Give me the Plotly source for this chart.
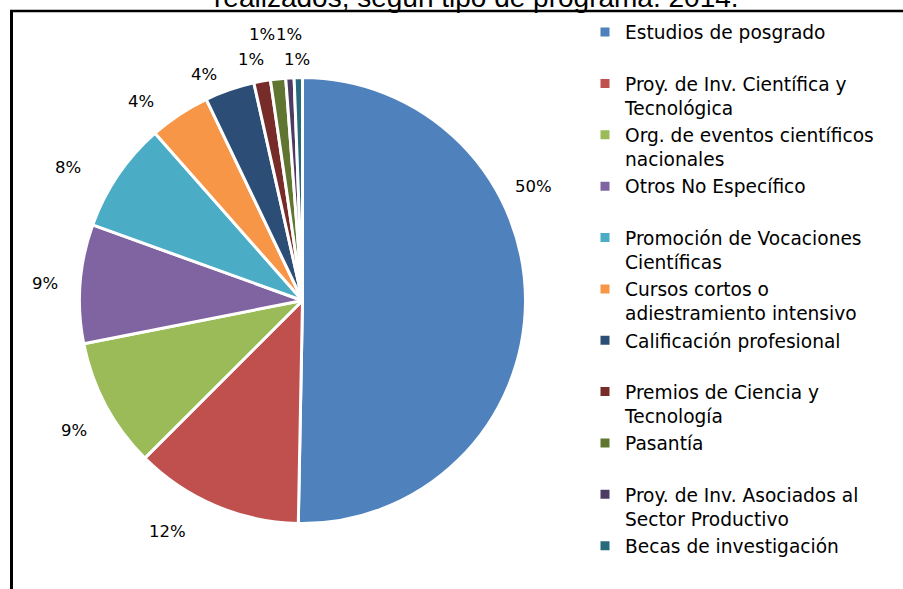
import math
import plotly.graph_objects as go

# ---- data ----
categories = [
    "Estudios de posgrado",
    "Proy. de Inv. Científica y<br>Tecnológica",
    "Org. de eventos científicos<br>nacionales",
    "Otros No Específico",
    "Promoción de Vocaciones<br>Científicas",
    "Cursos cortos o<br>adiestramiento intensivo",
    "Calificación profesional",
    "Premios de Ciencia y<br>Tecnología",
    "Pasantía",
    "Proy. de Inv. Asociados al<br>Sector Productivo",
    "Becas de investigación",
]
values = [50.3, 12.2, 9.4, 8.6, 8.0, 4.4, 3.6, 1.2, 1.1, 0.6, 0.6]
title_text = "realizados, según tipo de programa. 2014."

# ---- styles / layout ----
colors = ["#4F81BD", "#C0504D", "#9BBB59", "#8064A2", "#4BACC6", "#F79646",
          "#2C4D75", "#772C2A", "#5F7530", "#4D3B62", "#276A7C"]
# label placement (angle clockwise from 12 o'clock in degrees, radius factor)
label_place = [(63.8, 1.154), (210.4, 1.20), (240.3, 1.18), (273.8, 1.157),
               (299.5, 1.207), (320.9, 1.149), (336.5, 1.105), (348.0, 1.105),
               (351.4, 1.207), (357.2, 1.195), (358.8, 1.08)]

W, H = 903, 589
CX, CY, R = 302.5, 300.5, 223.0

legend_labels = [c if "<br>" in c else c + "<br>&nbsp;" for c in categories]

fig = go.Figure(go.Pie(
    labels=legend_labels,
    values=values,
    sort=False,
    direction="clockwise",
    rotation=0,
    textinfo="none",
    hoverinfo="label+percent",
    marker=dict(colors=colors, line=dict(color="white", width=3)),
    domain=dict(x=[(CX - R) / W, (CX + R) / W], y=[1 - (CY + R) / H, 1 - (CY - R) / H]),
))

total = sum(values)
annotations = []
for v, (ang, rf) in zip(values, label_place):
    a = math.radians(ang)
    px = CX + rf * R * math.sin(a)
    py = CY - rf * R * math.cos(a)
    annotations.append(dict(
        x=px / W, y=1 - py / H, xref="paper", yref="paper",
        text=f"{round(v / total * 100)}%", showarrow=False,
        xanchor="center", yanchor="middle",
        font=dict(family="DejaVu Sans", size=16.5, color="#000000"),
    ))
annotations.append(dict(
    x=476 / W, y=1.005, xref="paper", yref="paper", text=title_text,
    showarrow=False, xanchor="center", yanchor="middle",
    font=dict(family="Liberation Sans", size=28, color="#000000"),
))

shapes = [
    dict(type="line", xref="paper", yref="paper",
         x0=11.5 / W, x1=11.5 / W, y0=0, y1=1 - 11 / H,
         line=dict(color="black", width=3)),
    dict(type="line", xref="paper", yref="paper",
         x0=10 / W, x1=1, y0=1 - 11 / H, y1=1 - 11 / H,
         line=dict(color="black", width=2.5)),
]

fig.update_layout(
    width=W, height=H,
    margin=dict(l=0, r=0, t=0, b=0),
    paper_bgcolor="white",
    plot_bgcolor="white",
    showlegend=True,
    legend=dict(x=585 / W, y=1 - 13.5 / H, xanchor="left", yanchor="top",
                font=dict(family="DejaVu Sans", size=18.6, color="#000000"),
                valign="top", bgcolor="rgba(0,0,0,0)", borderwidth=0),
    annotations=annotations,
    shapes=shapes,
)

fig.write_html("out.html", config={"displayModeBar": False},
               post_script="document.body.style.margin='0';document.body.style.overflow='hidden';")
